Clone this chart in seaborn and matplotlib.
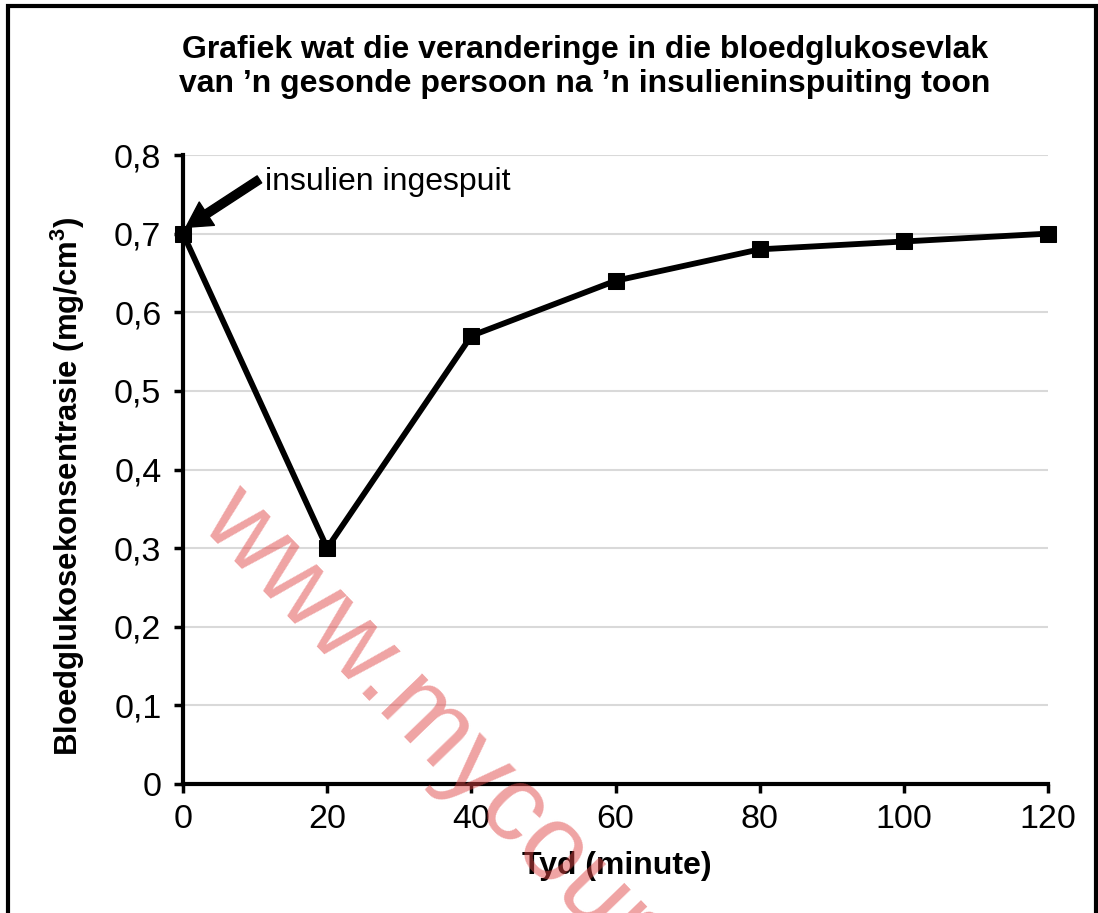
import numpy as np
import pandas as pd
import matplotlib.pyplot as plt
from matplotlib.patches import Rectangle
import seaborn as sns

# --- data ---
tyd = [0, 20, 40, 60, 80, 100, 120]
glukose = [0.70, 0.30, 0.57, 0.64, 0.68, 0.69, 0.70]
x_ticks = [0, 20, 40, 60, 80, 100, 120]
y_ticks = [0, 0.1, 0.2, 0.3, 0.4, 0.5, 0.6, 0.7, 0.8]
y_tick_labels = ['0', '0,1', '0,2', '0,3', '0,4', '0,5', '0,6', '0,7', '0,8']

df = pd.DataFrame({'Tyd': tyd, 'Glukose': glukose})

sns.set_style('white')
plt.rcParams['font.family'] = ['Liberation Sans', 'DejaVu Sans']
plt.rcParams['mathtext.default'] = 'regular'
plt.rcParams['text.color'] = 'black'
plt.rcParams['axes.labelcolor'] = 'black'
plt.rcParams['xtick.color'] = 'black'
plt.rcParams['ytick.color'] = 'black'

W, H = 1098, 913
fig = plt.figure(figsize=(W / 100, H / 100), dpi=100)
ax = fig.add_axes([183 / W, 1 - 784 / H, (1048 - 183) / W, (784 - 155) / H])

sns.lineplot(data=df, x='Tyd', y='Glukose', ax=ax, color='black', linewidth=4.2,
             marker='s', markersize=11.5, markeredgecolor='black', markerfacecolor='black',
             clip_on=False, zorder=5)

ax.set_xlim(0, 120)
ax.set_ylim(0, 0.8)
ax.set_xticks(x_ticks)
ax.set_yticks(y_ticks)
ax.set_yticklabels(y_tick_labels)
ax.tick_params(axis='both', labelsize=24.5, direction='out', length=6.5, width=2.5,
               color='black', left=True, bottom=True)
ax.tick_params(axis='y', pad=9)
ax.tick_params(axis='x', pad=8)
ax.yaxis.grid(True, color='#d9d9d9', linewidth=1.5)
ax.set_axisbelow(True)
for side in ['top', 'right']:
    ax.spines[side].set_visible(False)
for side in ['left', 'bottom']:
    ax.spines[side].set_color('black')
    ax.spines[side].set_linewidth(3)
ax.set_xlabel('')
ax.set_ylabel('')

# --- labels ---
fig.text(585 / W, 1 - 67 / H,
         'Grafiek wat die veranderinge in die bloedglukosevlak\n'
         'van \u2019n gesonde persoon na \u2019n insulieninspuiting toon',
         ha='center', va='center', fontsize=23, fontweight='bold', linespacing=1.15)
fig.text(68 / W, 1 - 486 / H, r'Bloedglukosekonsentrasie (mg/cm$^{3}$)',
         rotation=90, ha='center', va='center', fontsize=22.4, fontweight='bold')
fig.text(617 / W, 1 - 866 / H, 'Tyd (minute)', ha='center', va='center',
         fontsize=23, fontweight='bold')

# --- annotation ---
ax.annotate('', xy=(0.4, 0.708), xytext=(10.6, 0.769),
            arrowprops=dict(facecolor='black', edgecolor='black', width=6,
                            headwidth=20, headlength=18, shrink=0))
ax.text(11.4, 0.766, 'insulien ingespuit', fontsize=23, ha='left', va='center')

# --- watermark ---
fig.text(198 / W, 1 - 524 / H, 'www.mycourses.co.za', color='#e04848', alpha=0.5,
         fontsize=77, rotation=-46, rotation_mode='anchor', ha='left', va='baseline',
         zorder=10)

# --- frame around the picture ---
fig.patches.append(Rectangle((8 / W, -0.1), (1096 - 8) / W, 1.1 - 6 / H,
                             transform=fig.transFigure, fill=False,
                             edgecolor='black', linewidth=3))

fig.savefig('out.png', dpi=100)
